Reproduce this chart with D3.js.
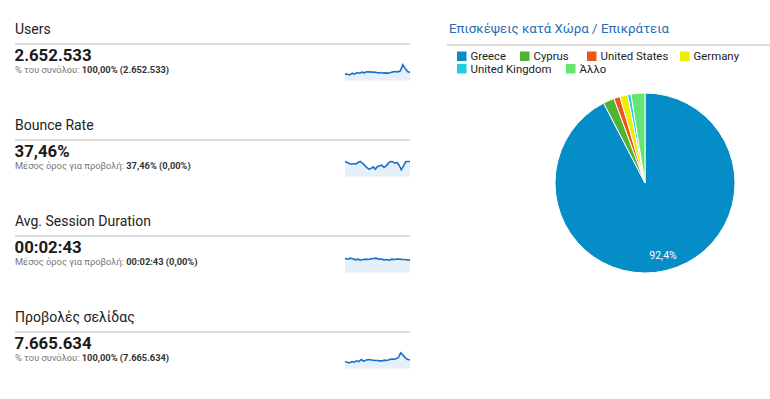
<!DOCTYPE html>
<html><head><meta charset="utf-8">
<script src="https://cdn.jsdelivr.net/npm/d3@7"></script>
<style>
html,body{margin:0;padding:0;background:#fff;}
svg{display:block;font-family:Roboto,"Liberation Sans",Arial,sans-serif;}
</style></head>
<body>
<svg id="c" width="770" height="399"></svg>
<script>
// ---- data ----
const metricTitles = ["Users", "Bounce Rate", "Avg. Session Duration", "Προβολές σελίδας"];
const metricValues = ["2.652.533", "37,46%", "00:02:43", "7.665.634"];
const metricSubLabels = ["% του συνόλου: ", "Μέσος όρος για προβολή: ", "Μέσος όρος για προβολή: ", "% του συνόλου: "];
const metricSubValues = ["100,00% (2.652.533)", "37,46% (0,00%)", "00:02:43 (0,00%)", "100,00% (7.665.634)"];

const sparkUsers = [20,19,17,22,19,24,22,25,23,26,26,25,25,24,23,24,22,23,22,24,26,27,26,29,47,36,27,24];
const sparkBounce = [45,42,39,37,39,37,42,45,40,34,27,22,24,29,22,30,32,34,27,32,40,45,44,40,42,34,20,32,44,45,45];
const sparkDuration = [42,40,43,41,38,40,37,39,40,39,41,42,43,40,40,38,39,37,40,39,40,40,39,39,38,38];
const sparkPageviews = [20,19,17,21,19,23,21,27,22,25,27,26,25,24,24,23,23,25,24,26,28,28,29,33,47,40,32,27,26];
const sparkMax = [47, 45, 43, 47];

const pieTitle = "Επισκέψεις κατά Χώρα / Επικράτεια";
const countries = ["Greece", "Cyprus", "United States", "Germany", "United Kingdom", "Άλλο"];
const shares = [92.4, 2.0, 1.1, 1.4, 0.6, 2.5];
const colors = ["#058dc7", "#50b432", "#ed561b", "#edef00", "#24cbe5", "#64e572"];

// ---- draw ----
const svg = d3.select("#c");
const sparks = [sparkUsers, sparkBounce, sparkDuration, sparkPageviews];

metricTitles.forEach((t, i) => {
  const base = 34 + i * 96;
  const g = svg.append("g");
  g.append("text").attr("x", 15).attr("y", base).attr("font-size", 14).attr("fill", "#222").text(t);
  g.append("rect").attr("x", 15).attr("y", base + 9).attr("width", 395).attr("height", 2).attr("fill", "#dcdcdc");
  g.append("text").attr("x", 14.5).attr("y", base + 27).attr("font-size", 16.8).attr("font-weight", "bold").attr("fill", "#1a1a1a").text(metricValues[i]);
  const st = g.append("text").attr("x", 15).attr("y", base + 39).attr("font-size", 9.3);
  st.append("tspan").attr("fill", "#777").text(metricSubLabels[i]);
  st.append("tspan").attr("fill", "#333").attr("font-weight", "bold").text(metricSubValues[i]);

  const data = sparks[i];
  const bottom = base + 46.5;
  const x = d3.scaleLinear().domain([0, data.length - 1]).range([345, 410]);
  const y = d3.scaleLinear().domain([0, sparkMax[i]]).range([bottom, bottom - sparkMax[i] / 3]);
  g.append("path").datum(data)
    .attr("d", d3.area().x((d, j) => x(j)).y0(bottom).y1(d => y(d)))
    .attr("fill", "#e6f0fa");
  g.append("path").datum(data)
    .attr("d", d3.line().x((d, j) => x(j)).y(d => y(d)))
    .attr("fill", "none").attr("stroke", "#1a73c8").attr("stroke-width", 1.6);
});

// right panel
svg.append("text").attr("x", 449).attr("y", 33).attr("font-size", 13.3).attr("fill", "#2a6cb5").text(pieTitle);
svg.append("rect").attr("x", 447).attr("y", 44).attr("width", 323).attr("height", 2).attr("fill", "#dcdcdc");

const legendPos = [[457, 56], [520, 56], [587, 56], [680, 56], [457, 68.5], [566, 68.5]];
countries.forEach((c, i) => {
  const [lx, ly] = legendPos[i];
  svg.append("rect").attr("x", lx).attr("y", ly - 4.5).attr("width", 9.5).attr("height", 9.5).attr("fill", colors[i]);
  svg.append("text").attr("x", lx + 13.5).attr("y", ly + 4).attr("font-size", 11.4).attr("fill", "#222").text(c);
});

const pie = d3.pie().sort(null).value(d => d);
const arcs = pie(shares);
const arc = d3.arc().innerRadius(0).outerRadius(90);
const pg = svg.append("g").attr("transform", "translate(645,183)");
pg.selectAll("path").data(arcs).enter().append("path")
  .attr("d", arc).attr("fill", (d, i) => colors[i])
  .attr("stroke", "#fff").attr("stroke-width", 1);
pg.append("text").attr("x", 18).attr("y", 76).attr("text-anchor", "middle")
  .attr("font-size", 10.5).attr("fill", "#fff").text(d3.format(".1f")(shares[0]).replace(".", ",") + "%");
</script>
</body></html>
